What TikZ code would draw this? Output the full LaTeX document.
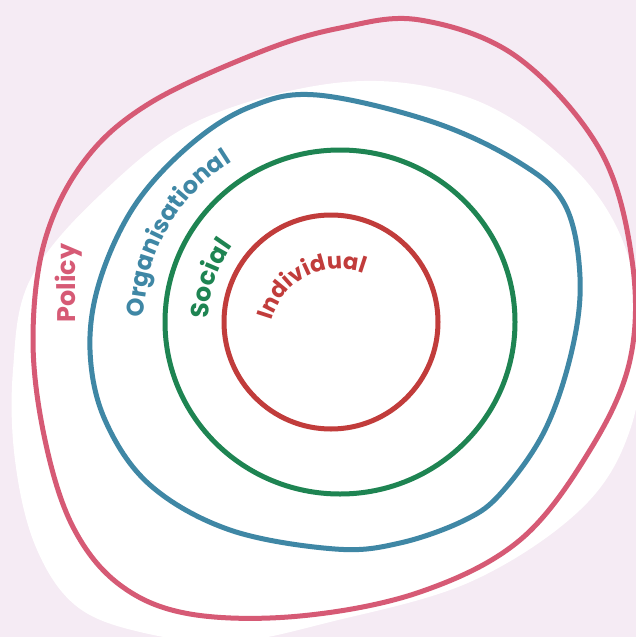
\documentclass[tikz,border=0pt]{standalone}
\usepackage{fontspec}
\setmainfont{Poppins}
\usetikzlibrary{decorations.text}
\definecolor{bgc}{HTML}{F5EBF4}
\definecolor{policyc}{HTML}{D65A75}
\definecolor{orgc}{HTML}{3F87A5}
\definecolor{socc}{HTML}{1E8452}
\definecolor{indc}{HTML}{C13C3B}
\begin{document}
\begin{tikzpicture}[x=1pt,y=-1pt,
  ring/.style={line width=5pt},
  lblfont/.style={font=\fontsize{25.5}{25.5}\selectfont\bfseries}]
\fill[bgc] (0,0) rectangle (636,637);
\useasboundingbox (0,0) rectangle (636,637);
% white blob
\fill[white] plot[smooth cycle, tension=0.6] coordinates {
(345,82) (467,97) (560,155) (618,230) (642,330) (630,430) (580,510) (470,582)
(330,622) (230,642) (140,632) (75,605) (35,545) (15,460) (13,370) (30,280)
(100,195) (200,120)};
% policy
\draw[ring, policyc] plot[smooth cycle, tension=0.6] coordinates {
(420,20) (517,57) (600,150) (632,260) (630,360) (590,450) (520,540) (420,592)
(300,616) (190,614) (120,585) (73,527) (45,440) (33,340) (45,240) (85,160)
(150,103) (260,52) (340,28)};
% organisational
\draw[ring, orgc] plot[smooth cycle, tension=0.6] coordinates {
(317,95) (433,122) (520,163) (565,205) (580,277) (572,350) (545,430) (502,492)
(465,520) (400,543) (335,549) (230,530) (150,485) (105,420) (90,350) (100,280)
(135,205) (190,145) (250,107)};
% social
\draw[ring, socc] (340,322) ellipse[x radius=175, y radius=172];
% individual
\draw[ring, indc] (331,322) circle[radius=107];
% labels
\node[lblfont, text=policyc, rotate=90] (policy) at (69,283) {Policy};
\path[decorate, decoration={text along path, text align=center,
  text color=orgc, text={|\fontsize{24}{24}\selectfont\bfseries|Organisational}}]
  (330,320) ++(-190:186) arc[start angle=-190, end angle=-111, radius=186];
\path[decorate, decoration={text along path, text align=center,
  text color=socc, text={|\fontsize{25}{25}\selectfont\bfseries|Social}}]
  (331,318) ++(-185:122) arc[start angle=-185, end angle=-139, radius=122];
\path[decorate, decoration={text along path, text align=center,
  text color=indc, text={|\fontsize{22.5}{22.5}\selectfont\bfseries|Individual}}]
  (339,339) ++(-170:70) arc[start angle=-170, end angle=-64, radius=70];
\end{tikzpicture}
\end{document}
